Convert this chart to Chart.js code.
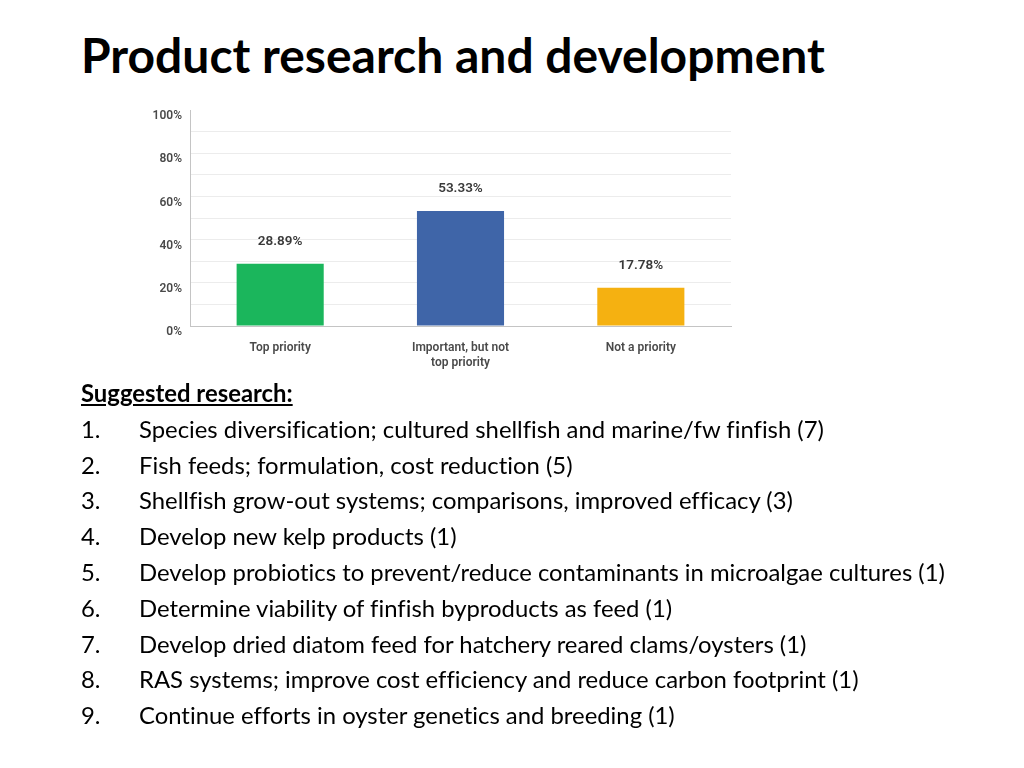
<!DOCTYPE html>
<html>
<head>
<meta charset="utf-8">
<script src="https://cdn.jsdelivr.net/npm/chart.js@4.4.1/dist/chart.umd.min.js"></script>
<style>
  html, body { margin: 0; padding: 0; background: #fff; }
  body { width: 1024px; height: 768px; position: relative; overflow: hidden; font-family: Lato, "Open Sans", sans-serif; font-variant-ligatures: none; }
  #title { position: absolute; left: 81px; top: 28px; font-family: Lato, "Open Sans", sans-serif; font-weight: 700; font-size: 44px; line-height: 54px; color: #000; white-space: nowrap; }
  #chartBox { position: absolute; left: 130px; top: 95px; width: 615px; height: 285px; }
  #notes { position: absolute; left: 81px; top: 375px; font-size: 23px; color: #000; line-height: 35.8px; }
  #notes .head { font-weight: 700; text-decoration: underline; }
  #notes .row { white-space: nowrap; }
  #notes .num { display: inline-block; width: 58px; }
</style>
</head>
<body>
<div id="title">Product research and development</div>
<div id="chartBox"><canvas id="c" width="615" height="285"></canvas></div>
<div id="notes"></div>
<script>
const categories = [["Top priority"], ["Important, but not", "top priority"], ["Not a priority"]];
const values = [28.89, 53.33, 17.78];
const barColors = ["#1bb65c", "#3f65a8", "#f5b111"];
const yTickLabels = ["0%", "20%", "40%", "60%", "80%", "100%"];
const headingText = "Suggested research:";
const researchItems = [
  "Species diversification; cultured shellfish and marine/fw finfish (7)",
  "Fish feeds; formulation, cost reduction (5)",
  "Shellfish grow-out systems; comparisons, improved efficacy (3)",
  "Develop new kelp products (1)",
  "Develop probiotics to prevent/reduce contaminants in microalgae cultures (1)",
  "Determine viability of finfish byproducts as feed (1)",
  "Develop dried diatom feed for hatchery reared clams/oysters (1)",
  "RAS systems; improve cost efficiency and reduce carbon footprint (1)",
  "Continue efforts in oyster genetics and breeding (1)"
];

// Build notes text
const notes = document.getElementById('notes');
const h = document.createElement('div');
h.className = 'head';
h.textContent = headingText;
notes.appendChild(h);
const rowTexts = [];
researchItems.forEach((t, i) => {
  const r = document.createElement('div');
  r.className = 'row';
  const n = document.createElement('span');
  n.className = 'num';
  n.textContent = (i + 1) + '.';
  r.appendChild(n);
  const s = document.createElement('span');
  s.textContent = t;
  r.appendChild(s);
  rowTexts.push(s);
  notes.appendChild(r);
});

// Fit font sizes so text widths match the reference layout
function fitWidth(el, measureEl, target) {
  const cur = parseFloat(getComputedStyle(el).fontSize);
  const w = measureEl.getBoundingClientRect().width;
  if (w > 0) el.style.fontSize = (cur * target / w).toFixed(2) + 'px';
}
const titleEl = document.getElementById('title');
const tSpan = document.createElement('span');
tSpan.textContent = titleEl.textContent;
titleEl.textContent = '';
titleEl.appendChild(tSpan);
fitWidth(titleEl, tSpan, 744);
fitWidth(notes, rowTexts[4], 806);

const valueLabels = {
  id: 'valueLabels',
  afterDatasetsDraw(chart) {
    const ctx = chart.ctx;
    const meta = chart.getDatasetMeta(0);
    ctx.save();
    ctx.font = '600 13.5px Roboto, "Open Sans", sans-serif';
    ctx.fillStyle = '#3a3a3a';
    ctx.textAlign = 'center';
    ctx.textBaseline = 'middle';
    meta.data.forEach((el, i) => {
      ctx.fillText(values[i].toFixed(2) + '%', el.x, el.y - 22);
    });
    ctx.restore();
  }
};

new Chart(document.getElementById('c'), {
  type: 'bar',
  data: {
    labels: categories,
    datasets: [{
      data: values,
      backgroundColor: barColors,
      borderWidth: 0,
      categoryPercentage: 1,
      barPercentage: 0.483
    }]
  },
  options: {
    responsive: false,
    animation: false,
    layout: { padding: { top: 14, right: 14, left: 0, bottom: 0 } },
    plugins: { legend: { display: false }, tooltip: { enabled: false } },
    scales: {
      x: {
        grid: { display: false, drawTicks: false },
        border: { display: true, color: '#c4c4c4', width: 1 },
        ticks: {
          padding: 14,
          color: '#4a4a4a',
          font: { family: 'Roboto, "Open Sans", sans-serif', size: 12, weight: '600', lineHeight: 1.3 }
        },
        afterFit(scale) { scale.height = 54; }
      },
      y: {
        min: 0,
        max: 100,
        grid: {
          drawTicks: false,
          color: (c) => (c.tick && c.tick.value === 100) ? 'rgba(0,0,0,0)' : '#ececec',
          lineWidth: 1
        },
        border: { display: true, color: '#c4c4c4', width: 1 },
        ticks: {
          stepSize: 10,
          padding: 8,
          labelOffset: 6,
          color: '#4a4a4a',
          font: { family: 'Roboto, "Open Sans", sans-serif', size: 12, weight: '600' },
          callback: (v) => (v % 20 === 0) ? yTickLabels[v / 20] : ''
        },
        afterFit(scale) { scale.width = 60; }
      }
    }
  },
  plugins: [valueLabels]
});
</script>
</body>
</html>
